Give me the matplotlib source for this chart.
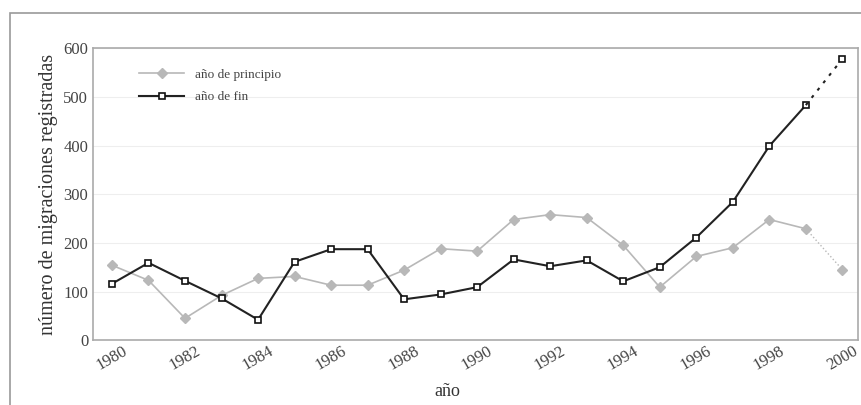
import matplotlib.pyplot as plt
from matplotlib.patches import Rectangle

plt.rcParams['font.family'] = ['Liberation Serif', 'DejaVu Serif']

# datos
years = list(range(1980, 2001))
inicio = [154, 123, 45, 92, 127, 131, 113, 113, 144, 188, 183,
          248, 258, 252, 195, 109, 172, 190, 248, 229, 145]
fin = [116, 159, 122, 86, 42, 161, 187, 187, 84, 94, 109,
       166, 152, 164, 121, 150, 211, 284, 399, 483, 578]
xticks = list(range(1980, 2001, 2))
yticks = [0, 100, 200, 300, 400, 500, 600]

fig = plt.figure(figsize=(8.61, 4.05), dpi=100)
ax = fig.add_axes([0.108, 0.160, 0.889, 0.721])

# marco exterior
fig.patches.append(Rectangle((0.012, -0.01), 0.99, 0.978, transform=fig.transFigure,
                             fill=False, edgecolor='#9a9a9a', linewidth=1.2))

gris = '#b8b8b8'
# año de principio (1999-2000 punteado)
ax.plot(years[:-1], inicio[:-1], color=gris, lw=1.2, marker='D', ms=5,
        mfc=gris, mec=gris, label='año de principio')
ax.plot(years[-2:], inicio[-2:], color=gris, lw=1.0, ls=':')
ax.plot(years[-1:], inicio[-1:], color=gris, marker='D', ms=5, ls='none')

# año de fin
ax.plot(years[:-1], fin[:-1], color='#222222', lw=1.5, marker='s', ms=5,
        mfc='white', mec='#111111', mew=1.2, label='año de fin')
ax.plot(years[-2:], fin[-2:], color='#222222', lw=1.5, ls=(0, (1.5, 3)))
ax.plot(years[-1:], fin[-1:], marker='s', ms=5, mfc='white', mec='#111111',
        mew=1.2, ls='none')

ax.set_xlim(1979.48, 2000.44)
ax.set_ylim(0, 600)
ax.set_xticks(xticks)
ax.set_yticks(yticks)
ax.tick_params(axis='x', labelrotation=30, labelsize=12, length=0, colors='#444444', pad=2)
ax.tick_params(axis='y', labelsize=12, length=0, colors='#444444')
for lab in ax.get_xticklabels():
    lab.set_ha('center')
ax.grid(axis='y', color='#eeeeee', lw=0.8)
ax.set_axisbelow(True)
for s in ax.spines.values():
    s.set_color('#aaaaaa')
    s.set_linewidth(1.2)

ax.set_ylabel('número de migraciones registradas', fontsize=14.5, color='#333333', labelpad=4)
ax.set_xlabel('año', fontsize=13, color='#333333', labelpad=0)
ax.xaxis.set_label_coords(0.463, -0.145)

ax.legend(loc='upper left', bbox_to_anchor=(0.045, 0.97), frameon=False, fontsize=9.5,
          handlelength=3.4, labelspacing=0.75, labelcolor='#444444')

fig.savefig('out.png', dpi=100)
